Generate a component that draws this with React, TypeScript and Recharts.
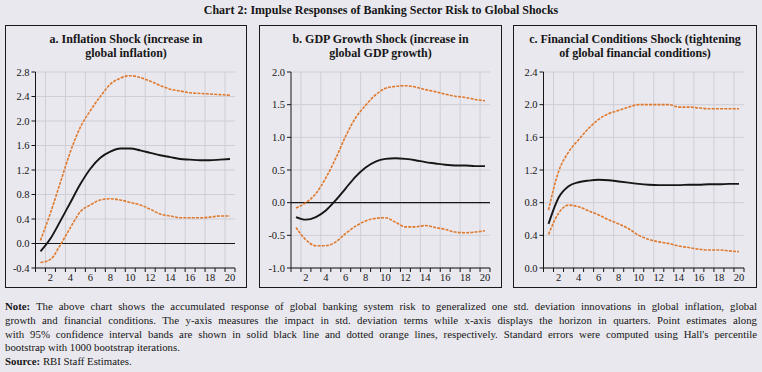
import React from "react";
import { CartesianGrid, Line, LineChart, ReferenceLine, XAxis, YAxis } from "recharts";

const QUARTERS = [1, 2, 3, 4, 5, 6, 7, 8, 9, 10, 11, 12, 13, 14, 15, 16, 17, 18, 19, 20];

const INFL_POINT = [-0.13, 0.08, 0.37, 0.67, 0.97, 1.22, 1.4, 1.5, 1.55, 1.55, 1.52, 1.48, 1.44, 1.41, 1.38, 1.37, 1.36, 1.36, 1.37, 1.38];
const INFL_UPPER = [0.05, 0.5, 1.0, 1.5, 1.9, 2.17, 2.4, 2.6, 2.7, 2.74, 2.71, 2.65, 2.58, 2.52, 2.49, 2.46, 2.45, 2.44, 2.43, 2.42];
const INFL_LOWER = [-0.31, -0.26, -0.02, 0.26, 0.52, 0.63, 0.71, 0.73, 0.71, 0.67, 0.63, 0.56, 0.48, 0.45, 0.42, 0.42, 0.42, 0.43, 0.45, 0.45];

const GDP_POINT = [-0.22, -0.26, -0.22, -0.12, 0.04, 0.22, 0.4, 0.54, 0.63, 0.67, 0.68, 0.67, 0.65, 0.62, 0.6, 0.58, 0.57, 0.57, 0.56, 0.56];
const GDP_UPPER = [-0.08, 0.0, 0.14, 0.38, 0.68, 1.02, 1.3, 1.49, 1.65, 1.75, 1.78, 1.79, 1.77, 1.73, 1.7, 1.66, 1.63, 1.61, 1.58, 1.56];
const GDP_LOWER = [-0.38, -0.57, -0.66, -0.66, -0.6, -0.47, -0.36, -0.28, -0.24, -0.23, -0.3, -0.37, -0.37, -0.35, -0.38, -0.41, -0.45, -0.46, -0.45, -0.43];

const FIN_POINT = [0.54, 0.86, 1.0, 1.05, 1.07, 1.08, 1.075, 1.06, 1.045, 1.03, 1.02, 1.015, 1.015, 1.015, 1.02, 1.02, 1.025, 1.025, 1.03, 1.03];
const FIN_UPPER = [0.71, 1.18, 1.42, 1.57, 1.71, 1.82, 1.89, 1.93, 1.97, 2.0, 2.0, 2.0, 2.0, 1.97, 1.97, 1.96, 1.95, 1.95, 1.95, 1.95];
const FIN_LOWER = [0.41, 0.67, 0.77, 0.75, 0.7, 0.65, 0.59, 0.54, 0.48, 0.4, 0.35, 0.32, 0.3, 0.27, 0.25, 0.23, 0.22, 0.22, 0.21, 0.2];

const Y_TICKS_A = [-0.4, 0, 0.4, 0.8, 1.2, 1.6, 2.0, 2.4, 2.8];
const Y_TICKS_B = [-1.0, -0.5, 0, 0.5, 1.0, 1.5, 2.0];
const Y_TICKS_C = [0, 0.4, 0.8, 1.2, 1.6, 2.0, 2.4];

const X_LABELS = [2, 4, 6, 8, 10, 12, 14, 16, 18, 20];

const BG = "#E9E8EE";
const GRID = "#CFCED6";
const ORANGE = "#E0792C";
const INK = "#161616";
const FONT = "'Liberation Serif', 'DejaVu Serif', serif";

const boundaries = [0, ...QUARTERS].map((q) => q + 0.5);
const gridX = X_LABELS.map((q) => q - 0.5);
const xTicks = [...boundaries, ...X_LABELS].sort((a, b) => a - b);

const XTick = (props: any) => {
  const { x, y, payload } = props;
  const v = payload.value;
  if (v % 1 !== 0) {
    return <line x1={x} x2={x} y1={y} y2={y + 4} stroke={INK} strokeWidth={1} />;
  }
  return (
    <text x={x} y={y + 13} textAnchor="middle" fontSize={10.5} fill={INK} fontFamily={FONT}>
      {v}
    </text>
  );
};

interface PanelProps {
  left: number;
  width: number;
  plotLeft: number;
  plotRight: number;
  title: string[];
  point: number[];
  upper: number[];
  lower: number[];
  yTicks: number[];
  zeroLine: boolean;
}

function Panel({ left, width, plotLeft, plotRight, title, point, upper, lower, yTicks, zeroLine }: PanelProps) {
  const data = QUARTERS.map((q, i) => ({ q, point: point[i], upper: upper[i], lower: lower[i] }));
  const chartW = width - 2;
  const chartH = 261;
  const yW = 26;
  const margin = {
    top: 46,
    right: left + 1 + chartW - plotRight,
    bottom: 0,
    left: plotLeft - (left + 1) - yW,
  };
  return (
    <div
      style={{
        position: "absolute",
        left,
        top: 25,
        width,
        height: 263,
        border: "1px solid #1a1a1a",
        boxSizing: "border-box",
      }}
    >
      <div
        style={{
          position: "absolute",
          left: 0,
          right: 0,
          top: 6,
          textAlign: "center",
          fontWeight: "bold",
          fontSize: 12,
          lineHeight: "14px",
          color: INK,
        }}
      >
        {title.map((t) => (
          <div key={t}>{t}</div>
        ))}
      </div>
      <div style={{ position: "absolute", left: 0, top: 0 }}>
        <LineChart width={chartW} height={chartH} data={data} margin={margin}>
          <CartesianGrid vertical={false} stroke={GRID} strokeWidth={1} />
          {gridX.map((gx) => (
            <ReferenceLine key={gx} x={gx} stroke={GRID} strokeWidth={1} />
          ))}
          {zeroLine && <ReferenceLine y={0} stroke={INK} strokeWidth={1.2} />}
          <XAxis
            dataKey="q"
            type="number"
            domain={[0.5, 20.5]}
            ticks={xTicks}
            interval={0}
            height={19}
            tickSize={0}
            tickMargin={0}
            tickLine={false}
            axisLine={{ stroke: INK, strokeWidth: 1 }}
            tick={<XTick />}
          />
          <YAxis
            type="number"
            width={yW}
            domain={[yTicks[0], yTicks[yTicks.length - 1]]}
            ticks={yTicks}
            interval={0}
            tickSize={4}
            tickMargin={2}
            axisLine={{ stroke: INK, strokeWidth: 1 }}
            tickLine={{ stroke: INK, strokeWidth: 1 }}
            tick={{ fontSize: 10.5, fill: INK, fontFamily: FONT }}
            tickFormatter={(v: number) => v.toFixed(1)}
          />
          <Line
            dataKey="upper"
            type="monotone"
            stroke={ORANGE}
            strokeWidth={1.6}
            strokeDasharray="3 1.2"
            dot={false}
            isAnimationActive={false}
          />
          <Line
            dataKey="lower"
            type="monotone"
            stroke={ORANGE}
            strokeWidth={1.6}
            strokeDasharray="3 1.2"
            dot={false}
            isAnimationActive={false}
          />
          <Line
            dataKey="point"
            type="monotone"
            stroke={INK}
            strokeWidth={1.9}
            dot={false}
            isAnimationActive={false}
          />
        </LineChart>
      </div>
    </div>
  );
}

const lineStyle: React.CSSProperties = {
  textAlign: "justify",
  textAlignLast: "justify",
  height: 13.8,
  whiteSpace: "nowrap",
};

export default function App() {
  return (
    <div
      style={{
        position: "absolute",
        left: 0,
        top: 0,
        width: 762,
        height: 372,
        background: BG,
        fontFamily: FONT,
        color: INK,
        overflow: "hidden",
      }}
    >
      <div
        style={{
          position: "absolute",
          left: 0,
          width: 762,
          top: 3,
          textAlign: "center",
          fontWeight: "bold",
          fontSize: 12,
        }}
      >
        Chart 2: Impulse Responses of Banking Sector Risk to Global Shocks
      </div>
      <Panel
        left={5}
        width={242}
        plotLeft={35.5}
        plotRight={235}
        title={["a. Inflation Shock (increase in", "global inflation)"]}
        point={INFL_POINT}
        upper={INFL_UPPER}
        lower={INFL_LOWER}
        yTicks={Y_TICKS_A}
        zeroLine
      />
      <Panel
        left={259}
        width={243}
        plotLeft={291}
        plotRight={490}
        title={["b. GDP Growth Shock (increase in", "global GDP growth)"]}
        point={GDP_POINT}
        upper={GDP_UPPER}
        lower={GDP_LOWER}
        yTicks={Y_TICKS_B}
        zeroLine
      />
      <Panel
        left={513}
        width={244}
        plotLeft={543.5}
        plotRight={744}
        title={["c. Financial Conditions Shock (tightening", "of global financial conditions)"]}
        point={FIN_POINT}
        upper={FIN_UPPER}
        lower={FIN_LOWER}
        yTicks={Y_TICKS_C}
        zeroLine={false}
      />
      <div
        style={{
          position: "absolute",
          left: 5,
          width: 752,
          top: 300,
          fontSize: 10.8,
          lineHeight: "13.8px",
        }}
      >
        <div style={lineStyle}>
          <b>Note:</b> The above chart shows the accumulated response of global banking system risk to generalized one std. deviation innovations in global inflation, global
        </div>
        <div style={lineStyle}>
          growth and financial conditions. The y-axis measures the impact in std. deviation terms while x-axis displays the horizon in quarters. Point estimates along
        </div>
        <div style={lineStyle}>
          with 95% confidence interval bands are shown in solid black line and dotted orange lines, respectively. Standard errors were computed using Hall's percentile
        </div>
        <div style={{ height: 13.8 }}>bootstrap with 1000 bootstrap iterations.</div>
        <div style={{ height: 13.8 }}>
          <b>Source:</b> RBI Staff Estimates.
        </div>
      </div>
    </div>
  );
}
